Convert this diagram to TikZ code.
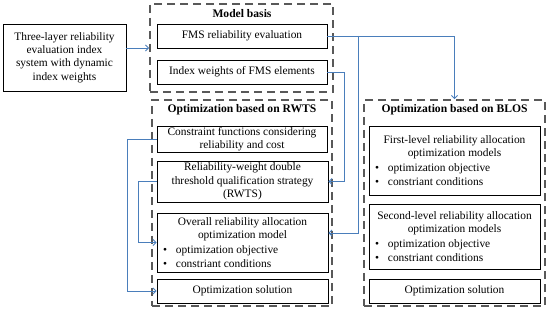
\documentclass[tikz,border=0pt]{standalone}
\usepackage{fontspec}
\setmainfont{Liberation Serif}
\usetikzlibrary{arrows.meta}
\definecolor{connblue}{HTML}{4A7EBB}
\definecolor{dashgray}{HTML}{595959}
\newcommand\myitem[1]{\hspace*{4pt}\textbullet\hspace{9pt}#1}
\begin{document}
\begin{tikzpicture}[x=1pt,y=-1pt,
  bx/.style={draw=black, line width=0.8pt, inner sep=1pt, align=center, font=\fontsize{11.4}{13.3}\selectfont},
  grp/.style={draw=dashgray, line width=1.8pt, dash pattern=on 8pt off 5pt, inner sep=0pt},
  conn/.style={draw=connblue, line width=0.9pt, -{Straight Barb[length=3pt,width=6pt]}},
  ttl/.style={font=\bfseries\fontsize{11.6}{13}\selectfont, inner sep=0pt}]
\useasboundingbox[fill=white] (0,0) rectangle (550,313);
% groups
\node[grp, minimum width=183pt, minimum height=88pt] (mb) at (241.5,48) {};
\node[grp, minimum width=180pt, minimum height=206pt] (rwts) at (242,203) {};
\node[grp, minimum width=181pt, minimum height=206pt] (blos) at (454.5,203) {};
\node[ttl] (t1) at (242,14) {Model basis};
\node[ttl] (t2) at (242,110) {Optimization based on RWTS};
\node[ttl] (t3) at (454.5,110) {Optimization based on BLOS};
% boxes
\node[bx, minimum width=123pt, minimum height=67pt] (left) at (64.5,57.5)
  {Three-layer reliability\\evaluation index\\system with dynamic\\index weights};
\node[bx, minimum width=170pt, minimum height=24pt] (fms) at (242,36) {FMS reliability evaluation};
\node[bx, minimum width=170pt, minimum height=24pt] (iw) at (242,72) {Index weights of FMS elements};
\node[bx, minimum width=170pt, minimum height=26pt] (cons) at (242,139)
  {Constraint functions considering\\reliability and cost};
\node[bx, minimum width=171pt, minimum height=41pt] (rw) at (242.5,181.5)
  {Reliability-weight double\\threshold qualification strategy\\(RWTS)};
\node[bx, minimum width=171pt, minimum height=59pt] (overall) at (242.5,242.5)
  {\begin{minipage}{167pt}\centering Overall reliability allocation\\optimization model\par\vspace{1.5pt}\raggedright
   \myitem{optimization objective}\\\myitem{constriant conditions}\end{minipage}};
\node[bx, minimum width=171pt, minimum height=24pt] (sol1) at (242.5,291) {Optimization solution};
\node[bx, minimum width=171pt, minimum height=69pt] (first) at (454.5,160.5)
  {\begin{minipage}{167pt}\centering First-level reliability allocation\\optimization models\par\vspace{1.5pt}\raggedright
   \myitem{optimization objective}\\\myitem{constriant conditions}\end{minipage}};
\node[bx, minimum width=171pt, minimum height=65pt] (second) at (454.5,236.5)
  {\begin{minipage}{167pt}\centering Second-level reliability allocation\\optimization models\par\vspace{1.5pt}\raggedright
   \myitem{optimization objective}\\\myitem{constriant conditions}\end{minipage}};
\node[bx, minimum width=171pt, minimum height=24pt] (sol2) at (454.5,291) {Optimization solution};
% connectors
\coordinate (a0) at ([yshift=9.5pt]left.east);
\draw[conn] (a0) -- (a0 -| mb.west);
\draw[conn] (fms.east) -| (blos.north);
\coordinate (j1) at (358,36);
\coordinate (oe) at ([yshift=9.5pt]overall.east);
\draw[conn] (j1) |- (oe);
\draw[conn] (iw.east) -- ++(17,0) |- (rw.east);
\draw[conn] (rw.west) -- ++(-18,0) |- (overall.west);
\draw[conn] (cons.west) -- ++(-29,0) |- (sol1.west);
\end{tikzpicture}
\end{document}
